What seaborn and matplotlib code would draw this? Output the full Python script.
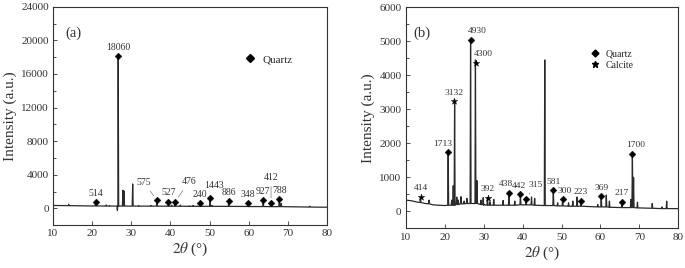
import pandas as pd
import seaborn as sns
import matplotlib.pyplot as plt
from matplotlib.lines import Line2D
from matplotlib.ticker import MultipleLocator

# ---------------- (a) ----------------
# background of the pattern (2theta, intensity)
bg_a_tth = [10, 20, 30, 45, 60, 70, 80]
bg_a_int = [340, 280, 260, 240, 210, 190, 130]

# all peaks of the trace: centre, top, foot
pk_a_tth = [14.0, 20.9, 23.6, 24.4, 26.45, 26.65, 27.85, 28.15, 30.35, 31.9, 35.0,
            36.55, 39.5, 40.3, 41.2, 42.5, 44.8, 45.8, 47.6, 50.1, 50.6, 54.9,
            59.8, 63.7, 65.7, 67.8, 68.3, 75.6]
pk_a_top = [480, 750, 400, 330, -250, 18100, 2150, 2050, 2900, 330, 350,
            950, 800, 380, 800, 380, 300, 350, 590, 1220, 350, 830,
            590, 950, 590, 1070, 600, 250]
pk_a_foot = [320, 280, 270, 270, 270, 270, 270, 270, 270, 260, 260,
             260, 250, 250, 250, 250, 240, 240, 240, 240, 240, 230,
             220, 210, 200, 200, 200, 150]

# quartz markers and their labels
qz_a_tth = [20.9, 26.65, 36.55, 39.5, 41.2, 47.6, 50.1, 54.9, 59.8, 63.7, 65.7, 67.8]
qz_a_int = [750, 18100, 950, 800, 800, 590, 1220, 830, 590, 950, 590, 1070]
qz_a_lab = [514, 18060, 575, 527, 476, 240, 1443, 886, 348, 927, 412, 788]

# ---------------- (b) ----------------
bg_b_tth = [10, 11.5, 13, 15, 17, 20, 30, 40, 50, 60, 70, 80]
bg_b_int = [330, 310, 270, 230, 190, 170, 180, 190, 160, 130, 100, 80]

pk_b_tth = [13.8, 16.0, 20.9, 21.8, 22.2, 22.55, 23.1, 23.5, 24.2, 25.0, 25.7,
            26.65, 27.9, 28.3, 29.3, 29.9, 31.0, 31.6, 32.6, 35.0, 36.5, 38.0,
            39.45, 40.9, 42.3, 43.1, 45.7, 47.9, 49.0, 50.3, 51.8, 52.9, 54.0,
            55.0, 59.3, 60.2, 61.5, 62.3, 65.5, 67.8, 68.2, 68.5, 69.5, 73.3,
            75.8, 77.0]
pk_b_top = [400, 330, 1730, 330, 750, 3230, 420, 330, 430, 300, 380,
            5030, 4450, 900, 330, 400, 400, 280, 350, 320, 520, 300,
            500, 380, 420, 380, 4450, 620, 250, 370, 250, 300, 420,
            300, 200, 450, 480, 300, 290, 350, 1690, 1000, 270, 230,
            130, 300]
pk_b_foot = [260, 220, 180, 180, 180, 180, 200, 200, 220, 220, 230,
             230, 230, 230, 200, 200, 180, 180, 180, 180, 180, 180,
             190, 190, 190, 180, 170, 170, 160, 160, 150, 150, 150,
             150, 130, 130, 130, 120, 110, 110, 110, 110, 100, 90,
             80, 80]

qz_b_tth = [20.9, 26.65, 36.5, 39.45, 40.9, 47.9, 50.3, 55.0, 60.2, 65.5, 68.2]
qz_b_int = [1730, 5030, 525, 505, 377, 624, 365, 306, 445, 287, 1690]
qz_b_lab = [1713, 4930, 438, 442, 315, 581, 300, 223, 369, 217, 1700]

ca_b_tth = [13.8, 22.4, 28.0, 31.0]
ca_b_int = [425, 3230, 4365, 395]
ca_b_lab = [414, 3132, 4300, 392]

# label offsets in pixels (default straight above), leader line for some
off_a = {575: (-13, 18), 476: (14, 20), 412: (0, 26), 1443: (4, 13)}
lead_a = [575, 476, 412]
off_b = {1713: (-6, 8), 4930: (7, 9), 4300: (8, 9), 438: (-3, 9), 442: (-1, 8),
         315: (10, 14), 1700: (3, 9), 300: (2, 8)}
lead_b = [315]


def trace(bg_t, bg_i, pk_t, pk_top, pk_foot, hw=0.12):
    rows = list(zip(bg_t, bg_i))
    for c, top, foot in zip(pk_t, pk_top, pk_foot):
        rows += [(c - hw, foot), (c, top), (c + hw, foot)]
    df = pd.DataFrame(rows, columns=["tth", "intensity"])
    return df.sort_values("tth", kind="stable")


def put_labels(ax, xs, ys, labs, offs, leads, dflt, fs=7):
    for x, y, lab in zip(xs, ys, labs):
        dx, dy = offs.get(lab, (0, dflt))
        arrow = None
        if lab in leads:
            arrow = dict(arrowstyle="-", lw=0.5, color="#777", shrinkA=1, shrinkB=4)
        ax.annotate(str(lab), xy=(x, y), xytext=(dx, dy), textcoords="offset pixels",
                    ha="center", va="center", fontsize=fs, color="#333",
                    arrowprops=arrow)


sns.set_theme(style="ticks")
plt.rcParams["font.family"] = ["Liberation Serif", "DejaVu Serif"]
plt.rcParams["mathtext.fontset"] = "stix"

fig = plt.figure(figsize=(6.85, 2.68), dpi=100)
ax1 = fig.add_axes([0.0774, 0.160, 0.400, 0.815])
ax2 = fig.add_axes([0.5923, 0.148, 0.398, 0.825])

line_kw = dict(color="#2a2a2a", lw=0.9, estimator=None, sort=False, legend=False)

# (a)
da = trace(bg_a_tth, bg_a_int, pk_a_tth, pk_a_top, pk_a_foot)
sns.lineplot(data=da, x="tth", y="intensity", ax=ax1, **line_kw)
sns.scatterplot(x=qz_a_tth, y=qz_a_int, ax=ax1, marker="D", s=12, color="black",
                edgecolor="black", linewidth=0.3, zorder=3)
put_labels(ax1, qz_a_tth, qz_a_int, qz_a_lab, off_a, lead_a, 9)
ax1.set_ylim(-2000, 24000)
ax1.yaxis.set_major_locator(MultipleLocator(4000))
ax1.yaxis.set_minor_locator(MultipleLocator(2000))
ax1.text(0.044, 0.88, "(a)", transform=ax1.transAxes, fontsize=10.5, va="center", color="#333")
h1 = [Line2D([], [], marker="D", ls="none", color="black", markersize=3.8)]
ax1.legend(h1, ["Quartz"], loc="center left", bbox_to_anchor=(0.68, 0.76), frameon=False,
           fontsize=8, handlelength=1.0, handletextpad=0.6, borderpad=0)

# (b)
db = trace(bg_b_tth, bg_b_int, pk_b_tth, pk_b_top, pk_b_foot)
sns.lineplot(data=db, x="tth", y="intensity", ax=ax2, **line_kw)
sns.scatterplot(x=qz_b_tth, y=qz_b_int, ax=ax2, marker="D", s=12, color="black",
                edgecolor="black", linewidth=0.3, zorder=3)
sns.scatterplot(x=ca_b_tth, y=ca_b_int, ax=ax2, marker="*", s=24, color="black",
                edgecolor="black", linewidth=0.3, zorder=3)
put_labels(ax2, qz_b_tth, qz_b_int, qz_b_lab, off_b, lead_b, 8.5, fs=6.8)
put_labels(ax2, ca_b_tth, ca_b_int, ca_b_lab, off_b, lead_b, 8.5, fs=6.8)
ax2.set_ylim(-500, 6000)
ax2.yaxis.set_major_locator(MultipleLocator(1000))
ax2.yaxis.set_minor_locator(MultipleLocator(500))
ax2.text(0.028, 0.882, "(b)", transform=ax2.transAxes, fontsize=10.5, va="center", color="#333")
h2 = [Line2D([], [], marker="D", ls="none", color="black", markersize=3.5),
      Line2D([], [], marker="*", ls="none", color="black", markersize=5)]
ax2.legend(h2, ["Quartz", "Calcite"], loc="center left", bbox_to_anchor=(0.66, 0.762),
           frameon=False, fontsize=7, handlelength=1.0, handletextpad=0.6,
           borderpad=0, labelspacing=0.2)

for ax in (ax1, ax2):
    ax.set_xlim(10, 80)
    ax.xaxis.set_major_locator(MultipleLocator(10))
    ax.set_xlabel(r"$2\theta$ (°)", fontsize=11, color="#333", labelpad=2)
    ax.set_ylabel("Intensity (a.u.)", fontsize=11, color="#333", labelpad=3)
    ax.tick_params(which="both", direction="in", width=0.6, color="#333",
                   labelsize=8, labelcolor="#333", pad=3)
    ax.tick_params(which="major", length=3)
    ax.tick_params(which="minor", length=2)
    for sp in ax.spines.values():
        sp.set_visible(True)
        sp.set_color("#333")
        sp.set_linewidth(0.8)

fig.savefig("out.png", dpi=100)
